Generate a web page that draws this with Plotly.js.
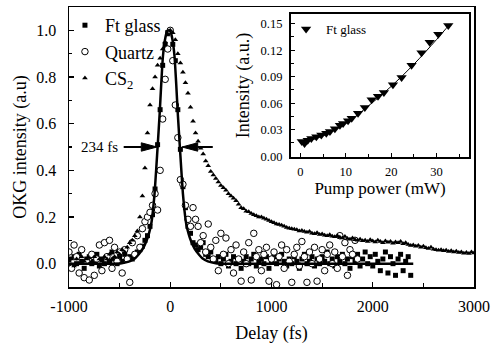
<!DOCTYPE html>
<html>
<head>
<meta charset="utf-8">
<script src="https://cdn.plot.ly/plotly-3.0.1.min.js"></script>
<style>html,body{margin:0;padding:0;background:#fff;}#chart{width:500px;height:344px;}</style>
</head>
<body>
<div id="chart"></div>
<script>
// Delay grid (fs), shared by all main-panel series
const delays = [-1000,-975,-950,-925,-900,-875,-850,-825,-800,-775,
-750,-725,-700,-675,-650,-625,-600,-575,-550,-525,
-500,-475,-450,-425,-400,-375,-350,-325,-300,-275,
-250,-225,-200,-175,-150,-125,-100,-75,-50,-25,
0,25,50,75,100,125,150,175,200,225,
250,275,300,325,350,375,400,425,450,475,
500,525,550,575,600,625,650,675,700,725,
750,775,800,825,850,875,900,925,950,975,
1000,1025,1050,1075,1100,1125,1150,1175,1200,1225,
1250,1275,1300,1325,1350,1375,1400,1425,1450,1475,
1500,1525,1550,1575,1600,1625,1650,1675,1700,1725,
1750,1775,1800,1825,1850,1875,1900,1925,1950,1975,
2000,2025,2050,2075,2100,2125,2150,2175,2200,2225,
2250,2275,2300,2325,2350,2375,2400,2425,2450,2475,
2500,2525,2550,2575,2600,2625,2650,2675,2700,2725,
2750,2775,2800,2825,2850,2875,2900,2925,2950,2975,
3000];

const ftGlass = [0.02,-0.01,0.03,0.00,0.04,0.01,-0.02,0.02,0.03,0.00,
0.01,0.04,-0.01,0.02,0.00,0.03,0.01,0.05,0.02,0.00,
0.03,0.01,0.04,0.02,0.03,0.02,0.04,0.05,0.06,0.075,
0.10,0.12,0.16,0.21,0.32,0.51,0.66,0.85,0.94,0.99,
1.00,0.94,0.87,0.66,0.49,0.33,0.24,0.16,0.13,0.09,
0.08,0.06,0.07,0.09,0.04,0.03,0.05,0.02,0.01,0.03,
0.00,0.02,0.04,-0.01,0.01,0.03,0.00,0.02,-0.02,0.01,
0.03,0.00,0.02,0.04,-0.01,0.01,0.02,0.00,0.03,-0.02,
0.01,0.03,0.00,0.02,0.04,0.01,-0.01,0.02,0.00,0.03,
0.01,-0.02,0.02,0.04,0.00,0.01,0.03,-0.01,0.02,0.00,
0.03,0.01,0.05,0.00,0.02,-0.01,0.03,0.01,0.04,0.00,
0.02,-0.02,0.03,0.01,0.04,-0.01,0.02,0.05,0.00,0.03,
-0.01,0.04,0.01,-0.03,0.02,0.05,-0.04,0.03,0.00,-0.05,
0.02,0.04,-0.03,0.01,0.03,-0.05];

const quartz = [0.05,-0.02,0.08,0.03,-0.04,0.06,-0.06,0.01,-0.07,0.04,
-0.05,0.02,0.08,-0.03,0.09,0.03,0.10,-0.02,0.07,0.01,
0.05,-0.04,0.06,0.02,-0.08,0.09,0.04,0.12,0.07,0.15,
0.18,0.20,0.22,0.25,0.30,0.23,0.40,0.62,0.79,0.92,
1.00,0.87,0.68,0.54,0.36,0.34,0.25,0.19,0.16,0.24,
0.19,0.16,0.09,0.12,0.05,0.17,0.07,0.02,0.10,-0.03,
0.13,0.04,0.11,0.00,0.06,-0.04,0.08,0.02,-0.075,0.05,
0.00,0.09,-0.07,0.13,0.03,0.06,-0.03,0.04,0.07,-0.075,
0.02,0.05,-0.09,0.03,0.08,-0.02,0.06,0.01,-0.08,0.04,
0.07,-0.01,0.095,0.03,-0.08,0.05,0.00,0.07,-0.075,0.02,
0.06,-0.03,0.04,0.08,0.00,0.05,-0.02,0.12,0.03,0.09,
-0.05,0.06,0.04,0.10,0.02];

const cs2 = [0.01,0.02,-0.01,0.02,0.00,0.03,0.01,0.02,0.00,0.01,
0.03,0.00,0.02,0.01,0.03,0.02,0.04,0.02,0.03,0.05,
0.04,0.06,0.05,0.07,0.09,0.10,0.12,0.14,0.20,0.29,
0.41,0.56,0.68,0.75,0.80,0.85,0.88,0.92,0.95,0.98,
1.00,0.99,0.96,0.90,0.86,0.82,0.775,0.73,0.67,0.61,
0.56,0.525,0.495,0.47,0.44,0.42,0.395,0.38,0.365,0.35,
0.335,0.325,0.315,0.30,0.29,0.28,0.27,0.255,0.24,0.235,
0.225,0.222,0.215,0.21,0.205,0.20,0.20,0.195,0.19,0.185,
0.18,0.175,0.17,0.168,0.165,0.16,0.155,0.152,0.15,0.148,
0.145,0.14,0.142,0.138,0.135,0.138,0.13,0.128,0.132,0.125,
0.127,0.122,0.12,0.124,0.118,0.115,0.12,0.113,0.11,0.116,
0.108,0.105,0.11,0.102,0.10,0.105,0.098,0.10,0.095,0.102,
0.097,0.093,0.10,0.095,0.09,0.097,0.092,0.095,0.088,0.093,
0.09,0.095,0.085,0.09,0.082,0.078,0.08,0.075,0.078,0.07,
0.075,0.068,0.065,0.07,0.062,0.06,0.058,0.06,0.055,0.058,
0.052,0.055,0.05,0.053,0.048,0.05,0.045,0.048,0.044,0.05,
0.046];

// Fit curve of the Ft glass autocorrelation
const fitDelay = [-1000,-580,-480,-402,-350,-303,-270,-237,-210,-188,-170,-155,-138,-122,-105,-89,-72,-52,-32,-15,2,22,42,59,75,92,108,125,140,158,180,207,240,273,320,372,450,550,2400];
const fitValue = [0,0,0.002,0.01,0.022,0.045,0.065,0.095,0.13,0.17,0.23,0.30,0.41,0.52,0.64,0.77,0.89,0.96,0.995,1.0,0.995,0.96,0.89,0.77,0.64,0.52,0.41,0.30,0.23,0.17,0.13,0.095,0.065,0.045,0.022,0.01,0.002,0,0];

// Inset: OKG intensity vs pump power
const pumpPower = [0.3,0.9,1.6,2.4,3.5,4.6,5.7,6.5,7.6,8.7,9.4,10.5,11.3,12.7,14.2,15.7,17.1,18.4,20.4,22.3,24.5,26.7,28.5,30.4,32.6];
const insetIntensity = [0.0165,0.0145,0.018,0.020,0.022,0.024,0.026,0.028,0.031,0.035,0.037,0.040,0.043,0.0485,0.055,0.064,0.068,0.072,0.081,0.089,0.103,0.117,0.129,0.138,0.148];
const insetFitPower = [0,5,10,15,20,25,30,33];
const insetFitValue = [0.0145,0.023,0.037,0.057,0.079,0.104,0.132,0.15];

// Tick labels
const xTickVals = [-1000,0,1000,2000,3000];
const xTickText = ['-1000','0','1000','2000','3000'];

// FWHM marker: half-maximum level and the two edges of the fit
const fwhmLabel = '234 fs';
const halfMax = 0.5;
const fwhmLeft = -131, fwhmRight = 116;

const FONT = 'Liberation Serif, Times New Roman, serif';

const traces = [
  {x: delays.slice(0, ftGlass.length), y: ftGlass, type:'scatter', mode:'markers', name:'Ft glass',
   marker:{symbol:'square', size:5, color:'#000'}, legend:'legend'},
  {x: delays.slice(0, quartz.length), y: quartz, type:'scatter', mode:'markers', name:'Quartz',
   marker:{symbol:'circle', size:6.5, color:'#fff', line:{color:'#000', width:1}}, legend:'legend'},
  {x: delays.slice(0, cs2.length), y: cs2, type:'scatter', mode:'markers', name:'CS<sub>2</sub>',
   marker:{symbol:'triangle-up', size:5, color:'#000'}, legend:'legend'},
  {x: fitDelay, y: fitValue, type:'scatter', mode:'lines', showlegend:false,
   line:{color:'#000', width:2.5, shape:'spline', smoothing:0.5}},
  {x: insetFitPower, y: insetFitValue, type:'scatter', mode:'lines', showlegend:false,
   xaxis:'x2', yaxis:'y2', line:{color:'#000', width:1, shape:'spline'}},
  {x: pumpPower, y: insetIntensity, type:'scatter', mode:'markers', name:'Ft glass',
   xaxis:'x2', yaxis:'y2', legend:'legend2',
   marker:{symbol:'triangle-down', size:9, color:'#000'}}
];

const axisCommon = {
  showline:true, linecolor:'#000', mirror:true, ticks:'inside', tickcolor:'#000',
  showgrid:false, zeroline:false, tickfont:{family:FONT, size:16, color:'#000'}
};

// arrow geometry (head length in fs, half-height in a.u.)
const headLen = 155, headHalf = 0.018;
function arrowShapes(tip, tail) {
  const dir = tail > tip ? 1 : -1;
  const base = tip + dir * headLen;
  return [
    {type:'line', xref:'x', yref:'y', x0:tail, x1:base, y0:halfMax, y1:halfMax,
     line:{color:'#000', width:2}},
    {type:'path', xref:'x', yref:'y',
     path:'M '+tip+','+halfMax+' L '+base+','+(halfMax+headHalf)+' L '+base+','+(halfMax-headHalf)+' Z',
     fillcolor:'#000', line:{color:'#000', width:1}}
  ];
}

const layout = {
  width:500, height:344,
  margin:{l:69, r:26, t:7, b:57},
  paper_bgcolor:'#fff', plot_bgcolor:'#fff',
  font:{family:FONT, color:'#000'},
  xaxis: Object.assign({}, axisCommon, {
    range:[-1000,3000], tickmode:'array', tickvals:xTickVals, ticktext:xTickText,
    ticklen:5, tickwidth:1.2, linewidth:1.5,
    minor:{dtick:500, tick0:0, ticks:'inside', ticklen:4, tickcolor:'#000'},
    ticklabelstandoff:4,
    title:{text:'Delay (fs)', font:{family:FONT, size:18, color:'#000'}, standoff:13}
  }),
  yaxis: Object.assign({}, axisCommon, {
    range:[-0.1,1.1], dtick:0.2, tick0:0, tickformat:'.1f', ticklen:5, tickwidth:1.2, linewidth:1.5,
    minor:{dtick:0.1, ticks:'inside', ticklen:3, tickcolor:'#000'},
    ticklabelstandoff:8,
    title:{text:'OKG intensity (a.u)', font:{family:FONT, size:18, color:'#000'}, standoff:5}
  }),
  xaxis2: Object.assign({}, axisCommon, {
    domain:[0.548,0.988], anchor:'y2', range:[-2.1,37.2], dtick:10, tick0:0,
    ticklen:4, linewidth:2, tickfont:{family:FONT, size:12.5, color:'#000'},
    minor:{dtick:5, ticks:'inside', ticklen:3, tickcolor:'#000'},
    ticklabelstandoff:2,
    title:{text:'Pump power (mW)', font:{family:FONT, size:17, color:'#000'}, standoff:2}
  }),
  yaxis2: Object.assign({}, axisCommon, {
    domain:[0.464,0.975], anchor:'x2', range:[-0.001,0.161], dtick:0.03, tick0:0, tickformat:'.2f',
    ticklen:4, linewidth:2, tickfont:{family:FONT, size:12.5, color:'#000'},
    minor:{dtick:0.015, ticks:'inside', ticklen:3, tickcolor:'#000'},
    ticklabelstandoff:4,
    title:{text:'Intensity (a.u.)', font:{family:FONT, size:18, color:'#000'}, standoff:6}
  }),
  legend:{x:-0.01, y:1.0, xanchor:'left', yanchor:'top', bgcolor:'rgba(0,0,0,0)',
    font:{family:FONT, size:18, color:'#000'}, tracegroupgap:0},
  legend2:{x:0.536, y:0.975, xanchor:'left', yanchor:'top', bgcolor:'rgba(0,0,0,0)',
    font:{family:FONT, size:13, color:'#000'}},
  shapes: arrowShapes(fwhmLeft, -460).concat(arrowShapes(fwhmRight, 420)),
  annotations:[
    {x:-700, y:halfMax, xref:'x', yref:'y', text:fwhmLabel, showarrow:false,
     font:{family:FONT, size:15, color:'#000'}}
  ]
};

Plotly.newPlot('chart', traces, layout, {staticPlot:true, displayModeBar:false});
</script>
</body>
</html>
